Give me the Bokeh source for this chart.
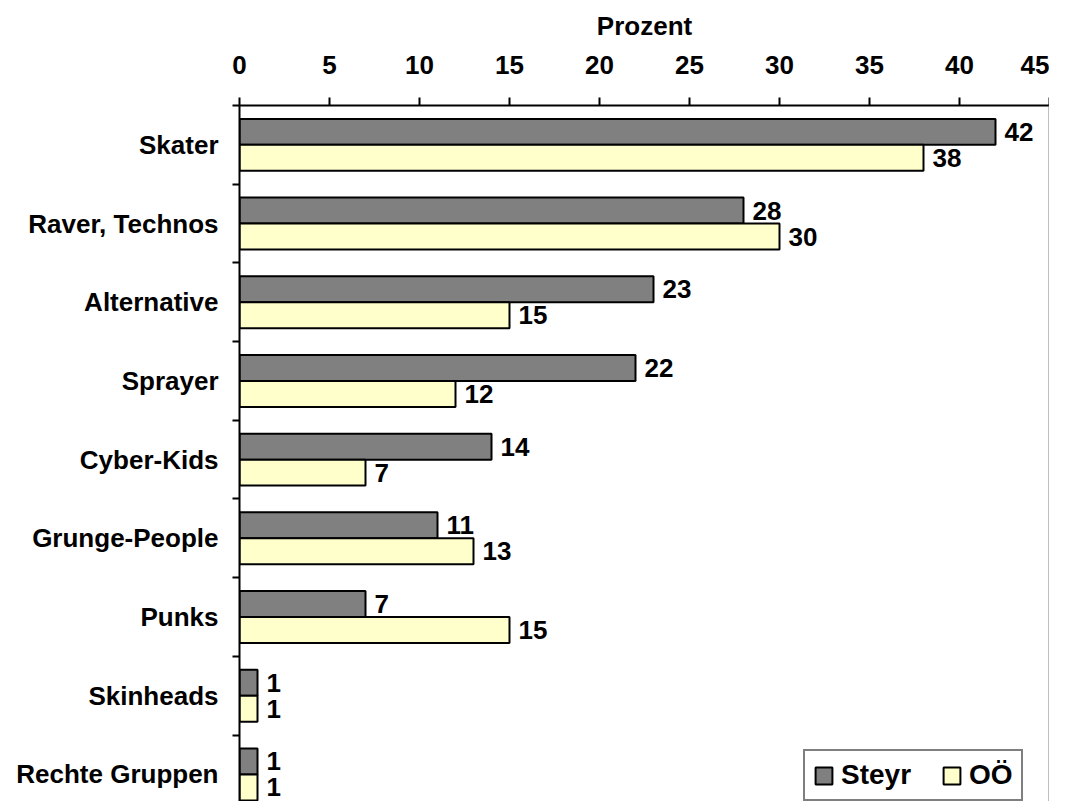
from bokeh.plotting import figure
from bokeh.models import Range1d, LinearAxis, FixedTicker, Legend, LegendItem, ColumnDataSource
from bokeh.core.properties import value
from bokeh.embed import file_html
from bokeh.resources import INLINE

categories = ["Skater", "Raver, Technos", "Alternative", "Sprayer", "Cyber-Kids",
              "Grunge-People", "Punks", "Skinheads", "Rechte Gruppen"]
steyr = [42, 28, 23, 22, 14, 11, 7, 1, 1]
ooe = [38, 30, 15, 12, 7, 13, 15, 1, 1]
x_ticks = [0, 5, 10, 15, 20, 25, 30, 35, 40, 45]
series_names = ["Steyr", "OÖ"]

FONT = value("Liberation Sans")
n = len(categories)
centers = [n - 0.5 - i for i in range(n)]
boundaries = [float(n - i) for i in range(n)]
bar_h = 0.33
off = 0.165

src_s = ColumnDataSource(dict(y=[c + off for c in centers], v=steyr, t=[str(v) for v in steyr]))
src_o = ColumnDataSource(dict(y=[c - off for c in centers], v=ooe, t=[str(v) for v in ooe]))

p = figure(frame_width=810, frame_height=696, x_range=Range1d(0, 45), y_range=Range1d(0.156, n),
           x_axis_location="above", output_backend="svg", toolbar_location=None,
           min_border_left=239, min_border_top=105, min_border_bottom=0, min_border_right=0)
p.outline_line_color = None
p.xgrid.visible = False
p.ygrid.visible = False
p.background_fill_color = "white"

r1 = p.hbar(y="y", right="v", left=0, height=bar_h, source=src_s,
            fill_color="#808080", line_color="black", line_width=2)
r2 = p.hbar(y="y", right="v", left=0, height=bar_h, source=src_o,
            fill_color="#FFFFCC", line_color="black", line_width=2)

for src in (src_s, src_o):
    p.text(x="v", y="y", text="t", source=src, x_offset=9, text_baseline="middle",
           text_align="left", text_font=FONT, text_font_style="bold",
           text_font_size="26px", text_color="black")

xa = p.xaxis[0]
xa.ticker = FixedTicker(ticks=x_ticks)
xa.axis_label = "Prozent"
xa.axis_label_text_font = "Liberation Sans"
xa.axis_label_text_font_style = "bold"
xa.axis_label_text_font_size = "26px"
xa.axis_label_text_color = "black"
xa.axis_label_standoff = 12
xa.major_label_text_font = "Liberation Sans"
xa.major_label_text_font_style = "bold"
xa.major_label_text_font_size = "26px"
xa.major_label_text_color = "black"
xa.major_label_standoff = 24
xa.axis_line_color = "black"
xa.axis_line_width = 2
xa.major_tick_line_color = "black"
xa.major_tick_line_width = 2
xa.major_tick_out = 8
xa.major_tick_in = 0
xa.minor_tick_line_color = None

ya = p.yaxis[0]
ya.ticker = FixedTicker(ticks=centers, minor_ticks=boundaries)
ya.major_label_overrides = {c: name for c, name in zip(centers, categories)}
ya.major_label_text_font = "Liberation Sans"
ya.major_label_text_font_style = "bold"
ya.major_label_text_font_size = "26px"
ya.major_label_text_color = "black"
ya.major_label_standoff = 14
ya.major_tick_line_color = None
ya.major_tick_out = 0
ya.major_tick_in = 0
ya.minor_tick_line_color = "black"
ya.minor_tick_line_width = 2
ya.minor_tick_out = 7
ya.minor_tick_in = 0
ya.axis_line_color = "black"
ya.axis_line_width = 2

ra = LinearAxis(ticker=FixedTicker(ticks=[]), axis_line_color="#808080", axis_line_width=2,
                major_tick_line_color=None, minor_tick_line_color=None,
                major_tick_out=0, minor_tick_out=0, major_tick_in=0, minor_tick_in=0,
                major_label_standoff=0)
p.add_layout(ra, "right")

legend = Legend(items=[LegendItem(label=series_names[0], renderers=[r1]),
                       LegendItem(label=series_names[1], renderers=[r2])],
                orientation="horizontal", location=(564, 0),
                label_text_font="Liberation Sans", label_text_font_style="bold",
                label_text_font_size="28px", label_text_color="black",
                glyph_width=21, glyph_height=21, label_standoff=7, spacing=30,
                padding=8, margin=0, border_line_color="black", border_line_width=2,
                background_fill_color="white", background_fill_alpha=1.0)
p.add_layout(legend)

open("out.html", "w").write(file_html(p, INLINE))
